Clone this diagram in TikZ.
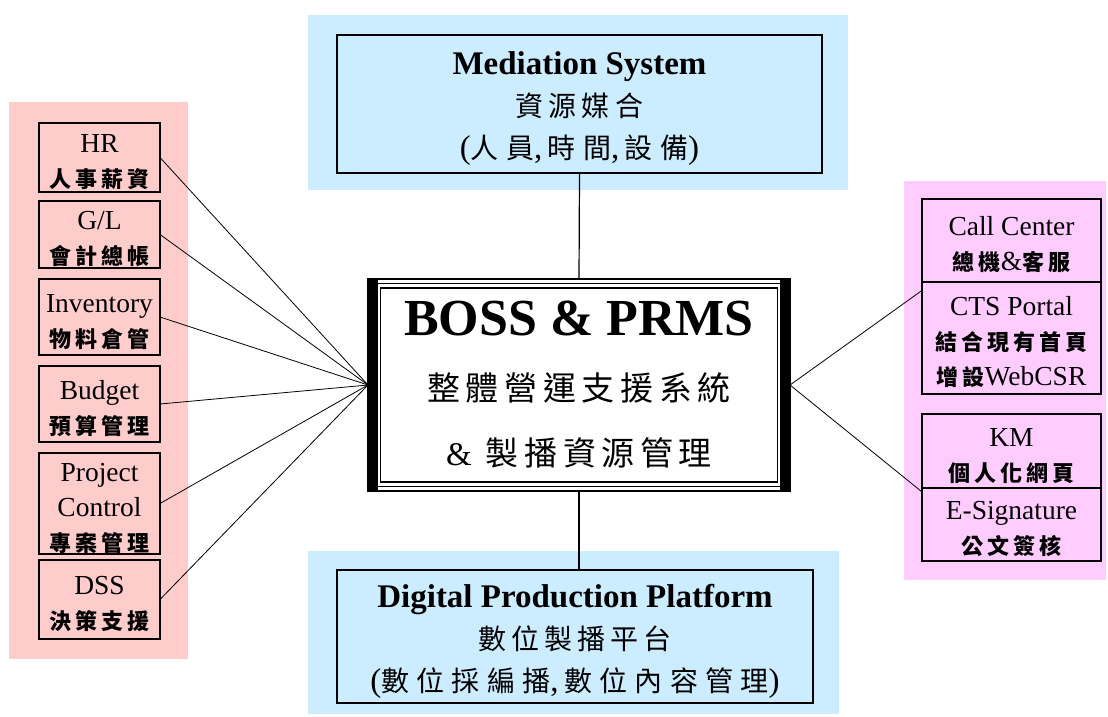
\documentclass[tikz,border=0pt]{standalone}
\usepackage{fontspec}
\setmainfont{Liberation Serif}
\newfontfamily\cjks[LetterSpace=18]{Noto Sans CJK TC}
\newfontfamily\cjkm[LetterSpace=18]{Noto Sans CJK TC}
\newfontfamily\cjkn[LetterSpace=26]{Noto Sans CJK TC}
\newfontfamily\cjkl[LetterSpace=17]{Noto Sans CJK TC}
\newcommand\Zs[1]{{\cjks\bfseries\fontsize{22}{35}\selectfont #1}}
\newcommand\Zm[1]{{\cjkm\fontsize{28}{42}\selectfont #1}}
\newcommand\Zn[1]{{\cjkn\fontsize{28}{42}\selectfont #1}}
\newcommand\Zl[1]{{\cjkl\fontsize{33}{65}\selectfont #1}}
\newcommand\Ts{\rule{0pt}{28pt}}
\newcommand\Tb{\rule{0pt}{32pt}}
\newcommand\Bd{\rule[-3pt]{0pt}{3pt}}
\definecolor{pinkL}{RGB}{255,204,204}
\definecolor{pinkR}{RGB}{255,204,255}
\definecolor{blueP}{RGB}{204,236,255}
\begin{document}
\begin{tikzpicture}[x=1pt,y=-1pt,
  every node/.style={inner sep=0pt, outer sep=0pt},
  sbox/.style={draw, line width=1.4pt, anchor=north west, minimum width=121pt, align=center, font=\fontsize{27.5}{35}\selectfont},
  rbox/.style={draw, line width=2.2pt, anchor=north west, minimum width=179pt, align=center, font=\fontsize{27.5}{35}\selectfont},
  bigbox/.style={draw, line width=1.4pt, anchor=north west, align=center, font=\fontsize{33}{42}\selectfont},
  link/.style={draw, line width=0.8pt},
  vlink/.style={draw, line width=1.2pt}]
\useasboundingbox (0,0) rectangle (1108,716);
% panels
\fill[pinkL] (9,102) rectangle (188,659);
\fill[pinkR] (904,181) rectangle (1106,580);
\fill[blueP] (308,15) rectangle (848,190);
\fill[blueP] (308,551) rectangle (839,714);
% left boxes
\node[sbox, minimum height=69pt] (hr) at (39,123) {\Ts HR\\\Zs{人事薪資}\Bd};
\node[sbox, minimum height=67pt] (gl) at (39,201) {\Ts G/L\\\Zs{會計總帳}\Bd};
\node[sbox, minimum height=76pt] (inv) at (39,279) {\Ts Inventory\\\Zs{物料倉管}\Bd};
\node[sbox, minimum height=76pt] (bud) at (39,366) {\Ts Budget\\\Zs{預算管理}\Bd};
\node[sbox, minimum height=99pt] (proj) at (39,453) {\Ts Project\\Control\\\Zs{專案管理}\Bd};
\node[sbox, minimum height=79pt] (dss) at (39,560) {\Ts DSS\\\Zs{決策支援}\Bd};
% right boxes
\node[rbox, minimum height=83pt] (cc) at (922,199) {\Ts Call Center\\\Zs{總機}\&\Zs{客服}\Bd};
\node[rbox, minimum height=112pt] (cts) at (922,282) {\Ts CTS Portal\\\Zs{結合現有首頁}\\\Zs{增設}WebCSR\Bd};
\node[rbox, minimum height=74pt] (km) at (922,414) {\Ts KM\\\Zs{個人化網頁}\Bd};
\node[rbox, minimum height=73pt] (esig) at (922,488) {\Ts E-Signature\\\Zs{公文簽核}\Bd};
% top and bottom
\node[bigbox, minimum width=485pt, minimum height=138pt] (med) at (337,35)
  {\Tb\textbf{Mediation System}\\\Zm{資源媒合}\\(\Zn{人員},\,\Zn{時間},\,\Zn{設備})\Bd};
\node[bigbox, minimum width=476pt, minimum height=133pt] (dpp) at (337,570)
  {\Tb\textbf{Digital Production Platform}\\\Zm{數位製播平台}\\(\Zn{數位採編播},\,\Zn{數位內容管理})\Bd};
% central box
\node[draw, line width=1.5pt, fill=white, anchor=north west, minimum width=422pt, minimum height=212pt,
  align=center, font=\fontsize{33}{65}\selectfont] (boss) at (368,279)
  {{\fontsize{52}{65}\selectfont\bfseries BOSS \& PRMS}\\\Zl{整體營運支援系統}\\\&\hspace{14pt}\Zl{製播資源管理}};
\fill (368,279) rectangle (378,491);
\fill (780,279) rectangle (790,491);
\draw[line width=1pt] (371.5,283.5) rectangle (786.5,486.5);
\draw[line width=1.3pt] (380.5,288) rectangle (777.5,482);
% connectors
\draw[link] (hr.east) -- (boss.west);
\draw[link] (gl.east) -- (boss.west);
\draw[link] (inv.east) -- (boss.west);
\draw[link] (bud.east) -- (boss.west);
\draw[link] (proj.east) -- (boss.west);
\draw[link] (dss.east) -- (boss.west);
\draw[link] (boss.east) -- (cts.152);
\draw[link] (boss.east) -- (esig.160);
\draw[vlink] (med.south) -- (boss.north);
\draw[vlink] (boss.south) -- (boss.south |- dpp.north);
\end{tikzpicture}
\end{document}
